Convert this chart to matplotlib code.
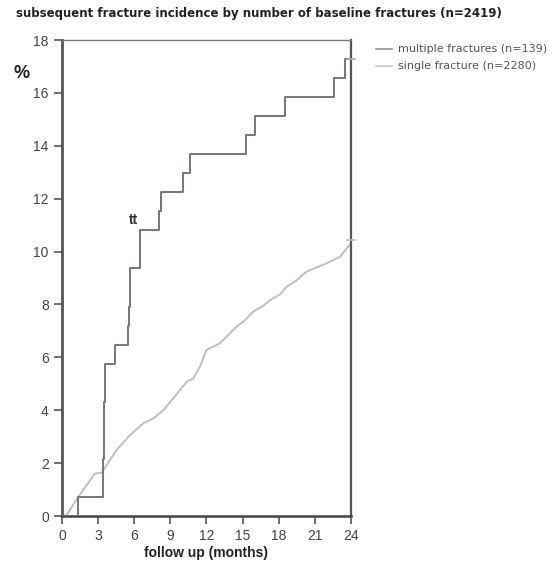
import matplotlib
matplotlib.use("Agg")
import matplotlib.pyplot as plt
from matplotlib.lines import Line2D

# multiple fractures (n=139): step times (months) and cumulative incidence (%)
multi_t = [0, 1.35, 3.38, 3.45, 3.6, 4.4, 5.45, 5.55, 5.65, 6.48, 8.08, 8.2, 10.08, 10.63, 15.28, 16.0, 18.52, 22.6, 23.48, 24]
multi_v = [0, 0.72, 2.16, 4.32, 5.76, 6.48, 7.20, 7.92, 9.36, 10.80, 11.52, 12.24, 12.96, 13.68, 14.40, 15.12, 15.84, 16.56, 17.28, 17.28]

# single fracture (n=2280)
single_t = [0, 0.39, 1.36, 2.74, 3.3, 3.71, 4.54, 5.65, 6.75, 7.58, 8.41, 9.24, 10.36, 10.9, 11.46, 12.0,
            13.1, 13.4, 14.5, 15.06, 15.9, 16.7, 17.3, 18.1, 18.66, 19.5, 20.3, 21.15, 22.0, 23.1, 23.65, 23.9]
single_v = [0, 0.04, 0.73, 1.61, 1.63, 1.93, 2.5, 3.06, 3.5, 3.69, 4.0, 4.45, 5.08, 5.2, 5.65, 6.28,
            6.53, 6.66, 7.16, 7.35, 7.73, 7.95, 8.17, 8.38, 8.67, 8.92, 9.24, 9.4, 9.56, 9.81, 10.12, 10.25]
single_censor = 10.44

x_ticks = [0, 3, 6, 9, 12, 15, 18, 21, 24]
y_ticks = [0, 2, 4, 6, 8, 10, 12, 14, 16, 18]

fig = plt.figure(figsize=(5.58, 5.68), dpi=100)
ax = fig.add_axes([62/558, 52/568, (351-62)/558, (516-40)/568])

ax.step(multi_t, multi_v, where='post', color='#7a7474', lw=1.4, zorder=3)
ax.plot(single_t, single_v, color='#c4bdbd', lw=1.4, zorder=2)
# censor marks at end
ax.plot([23.7, 24.3], [multi_v[-1], multi_v[-1]], color='#b0a8a8', lw=1.2, clip_on=False, zorder=4)
ax.plot([23.7, 24.3], [single_censor, single_censor], color='#c4bdbd', lw=1.2, clip_on=False, zorder=4)

ax.set_xlim(0, 24)
ax.set_ylim(0, 18)
ax.set_xticks(x_ticks)
ax.set_yticks(y_ticks)
ax.tick_params(axis='both', direction='out', length=6, width=1.2, color='#555555',
               labelsize=10, labelcolor='#444444')
for lab in ax.get_xticklabels() + ax.get_yticklabels():
    lab.set_family('Liberation Sans')

ax.spines['left'].set_linewidth(2.0)
ax.spines['left'].set_color('#555555')
ax.spines['bottom'].set_linewidth(1.8)
ax.spines['bottom'].set_color('#444444')
ax.spines['right'].set_linewidth(1.6)
ax.spines['right'].set_color('#555555')
ax.spines['top'].set_linewidth(1.0)
ax.spines['top'].set_color('#777777')

ax.text(5.9, 11.2, 'tt', ha='center', va='center', fontsize=10, fontweight='bold',
        family='Liberation Sans', color='#333333')

ax.set_xlabel('follow up (months)', fontsize=10, fontweight='bold', family='Liberation Sans',
              color='#222222', labelpad=2)

fig.text(22/558, 1 - 73/568, '%', fontsize=13, fontweight='bold', family='Liberation Sans',
         color='#222222', ha='center', va='center')

fig.text(259/558, 1 - 14/568, 'subsequent fracture incidence by number of baseline fractures (n=2419)',
         fontsize=8.5, fontweight='bold', family='DejaVu Sans', color='#222222', ha='center', va='center')

# legend
fig.lines.append(Line2D([376/558, 392/558], [1-49/568, 1-49/568], transform=fig.transFigure,
                        color='#9a9494', lw=1.2))
fig.lines.append(Line2D([376/558, 392/558], [1-66/568, 1-66/568], transform=fig.transFigure,
                        color='#c8c2c2', lw=1.2))
fig.text(398/558, 1-49/568, 'multiple fractures (n=139)', fontsize=8, family='DejaVu Sans',
         color='#555555', va='center', ha='left')
fig.text(398/558, 1-66/568, 'single fracture (n=2280)', fontsize=8, family='DejaVu Sans',
         color='#555555', va='center', ha='left')

fig.savefig('out.png', dpi=100)
